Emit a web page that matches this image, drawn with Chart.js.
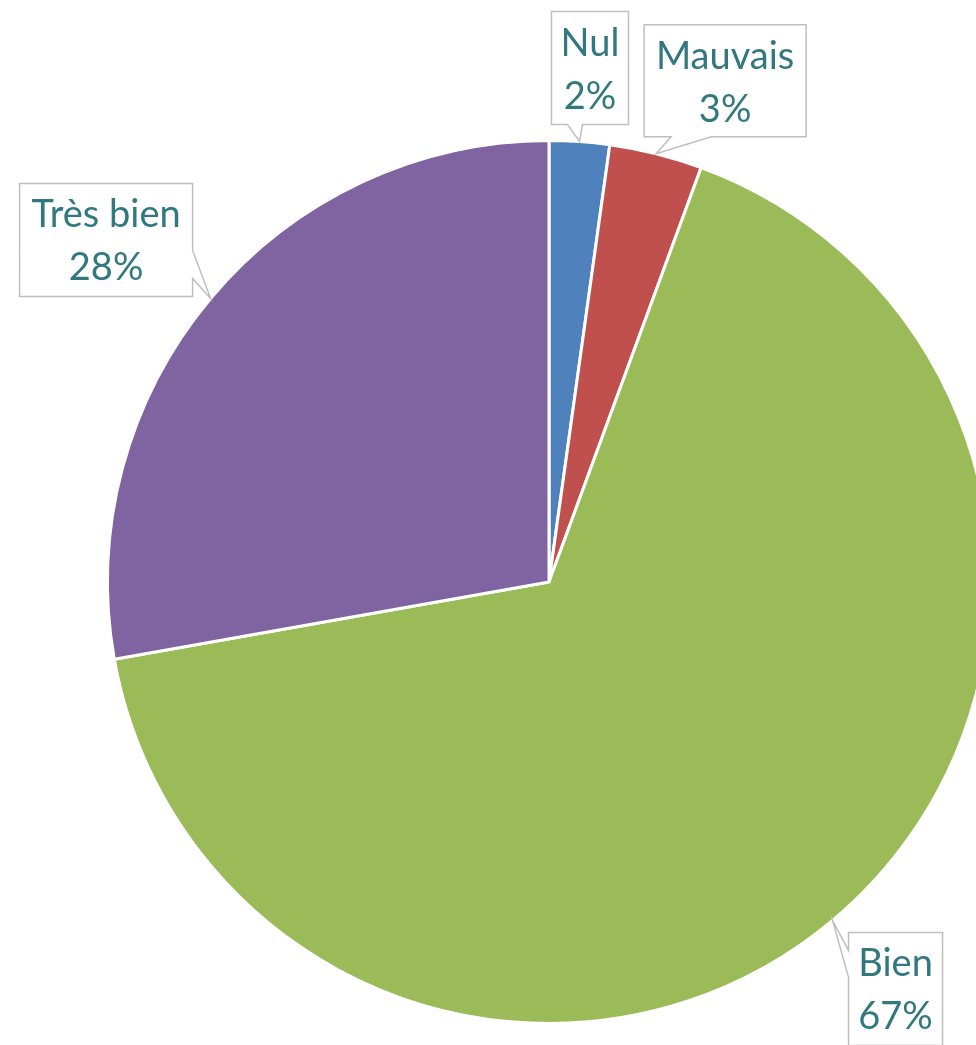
<!DOCTYPE html>
<html>
<head>
<meta charset="utf-8">
<script src="https://cdn.jsdelivr.net/npm/chart.js@4"></script>
<style>
  html, body { margin: 0; padding: 0; background: #fff; overflow: hidden; }
  #pie { position: absolute; left: 0; top: 0; }
</style>
</head>
<body>
<canvas id="pie" width="1000" height="1045"></canvas>
<script>
const categories = ['Nul', 'Mauvais', 'Bien', 'Très bien'];
const shares = [2.2, 3.4, 66.6, 27.8];
const sliceColors = ['#4F81BD', '#C0504D', '#9BBB59', '#8064A2'];

// callout boxes, placed relative to the tip on the slice edge
const callouts = [
    {dx: -28, dy: -130, w: 77, h: 113, side: 'bottom', a: -12, b: 3},
    {dx: -12, dy: -129, w: 162, h: 112, side: 'bottom', a: 15, b: 55},
    {dx: 16, dy: 12, w: 94, h: 113, side: 'left', a: 30, b: 57},
    {dx: -191, dy: -115, w: 173, h: 113, side: 'right', a: -48, b: -20}
];

const calloutPlugin = {
    id: 'callouts',
    afterDatasetsDraw(chart) {
        const ctx = chart.ctx;
        const arcs = chart.getDatasetMeta(0).data;
        const total = shares.reduce((s, v) => s + v, 0);
        ctx.save();
        arcs.forEach((arc, i) => {
            const {x, y, startAngle, endAngle, outerRadius} = arc.getProps(['x', 'y', 'startAngle', 'endAngle', 'outerRadius'], true);
            const mid = (startAngle + endAngle) / 2;
            const tx = x + Math.cos(mid) * outerRadius;
            const ty = y + Math.sin(mid) * outerRadius;
            const c = callouts[i];
            const L = tx + c.dx, T = ty + c.dy, R = L + c.w, B = T + c.h;

            ctx.beginPath();
            if (c.side === 'bottom') {
                ctx.moveTo(L, T); ctx.lineTo(R, T); ctx.lineTo(R, B);
                ctx.lineTo(tx + c.b, B); ctx.lineTo(tx, ty); ctx.lineTo(tx + c.a, B);
                ctx.lineTo(L, B); ctx.closePath();
            } else if (c.side === 'left') {
                ctx.moveTo(L, T); ctx.lineTo(R, T); ctx.lineTo(R, B); ctx.lineTo(L, B);
                ctx.lineTo(L, ty + c.b); ctx.lineTo(tx, ty); ctx.lineTo(L, ty + c.a);
                ctx.closePath();
            } else {
                ctx.moveTo(L, T); ctx.lineTo(R, T); ctx.lineTo(R, ty + c.a);
                ctx.lineTo(tx, ty); ctx.lineTo(R, ty + c.b); ctx.lineTo(R, B);
                ctx.lineTo(L, B); ctx.closePath();
            }
            ctx.fillStyle = '#fff';
            ctx.fill();
            ctx.strokeStyle = '#BFBFBF';
            ctx.lineWidth = 1.5;
            ctx.stroke();

            ctx.fillStyle = '#31787F';
            ctx.font = '38px Lato';
            ctx.textAlign = 'center';
            ctx.textBaseline = 'alphabetic';
            const cx = (L + R) / 2;
            ctx.fillText(categories[i], cx, T + 44);
            ctx.fillText(Math.round(shares[i] / total * 100) + '%', cx, T + 97);
        });
        ctx.restore();
    }
};

new Chart(document.getElementById('pie'), {
    type: 'pie',
    data: {
        labels: categories,
        datasets: [{
            data: shares,
            backgroundColor: sliceColors,
            borderColor: '#fff',
            borderWidth: 3
        }]
    },
    options: {
        responsive: false,
        animation: false,
        layout: {padding: {left: 106, top: 139, right: 8, bottom: 20}},
        plugins: {
            legend: {display: false},
            tooltip: {enabled: false}
        }
    },
    plugins: [calloutPlugin]
});
</script>
</body>
</html>
